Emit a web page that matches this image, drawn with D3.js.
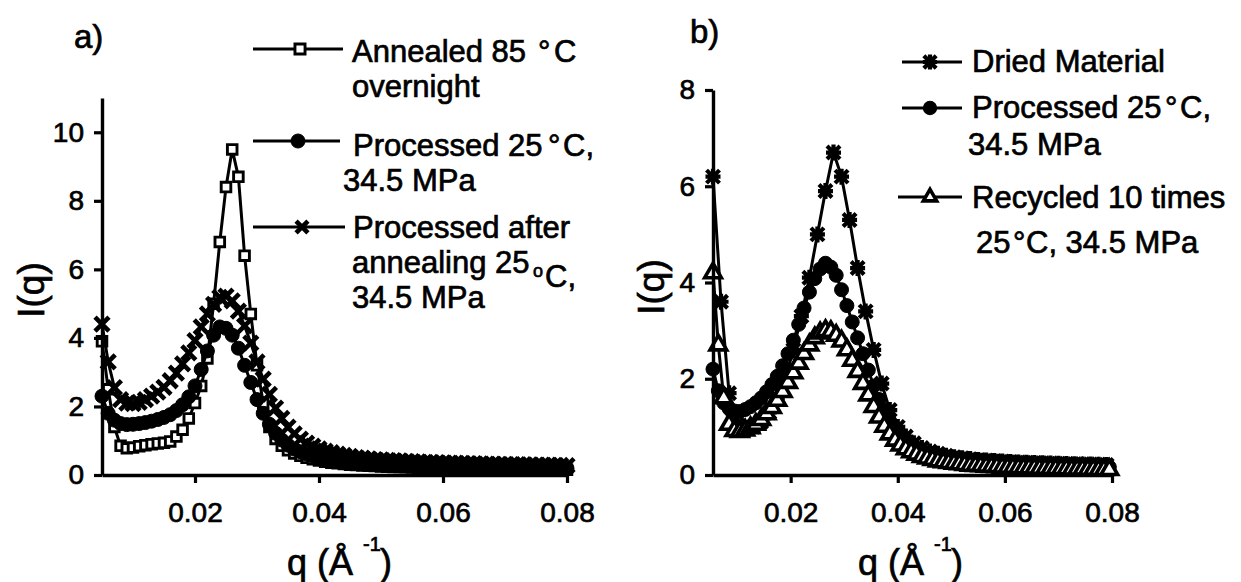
<!DOCTYPE html>
<html><head><meta charset="utf-8">
<script src="https://cdn.jsdelivr.net/npm/d3@7"></script>
<style>
html,body{margin:0;padding:0;background:#fff;}
svg text{font-family:"Liberation Sans",Arial,sans-serif;fill:#000;stroke:#000;stroke-width:0.7px;}
</style></head><body>
<svg id="chart" width="1241" height="582"></svg>
<script>
// ---------- DATA ----------
const qLeft = [
0.005,0.006,0.007,0.008,0.009,0.010,0.011,0.012,0.013,0.014,
0.015,0.016,0.017,0.018,0.019,0.020,0.021,0.022,0.023,0.024,
0.025,0.026,0.027,0.028,0.029,0.030,0.031,0.032,0.033,0.034,
0.035,0.036,0.037,0.038,0.039,0.040,0.041,0.042,0.043,0.044,
0.045,0.046,0.047,0.048,0.049,0.050,0.051,0.052,0.053,0.054,
0.055,0.056,0.057,0.058,0.059,0.060,0.061,0.062,0.063,0.064,
0.065,0.066,0.067,0.068,0.069,0.070,0.071,0.072,0.073,0.074,
0.075,0.076,0.077,0.078,0.079,0.080];
const annealed = [
3.9,2.5,1.4,0.85,0.78,0.8,0.84,0.87,0.9,0.92,
0.94,0.98,1.12,1.32,1.65,2.1,2.6,3.4,5.0,6.8,
8.4,9.5,8.7,6.4,4.7,3.2,2.1,1.4,1.05,0.85,
0.72,0.63,0.56,0.5,0.46,0.42,0.39,0.36,0.34,0.32,
0.3,0.29,0.28,0.27,0.26,0.25,0.24,0.235,0.23,0.225,
0.22,0.215,0.21,0.205,0.2,0.2,0.195,0.19,0.19,0.185,
0.18,0.18,0.175,0.175,0.17,0.17,0.165,0.165,0.16,0.16,
0.16,0.155,0.155,0.15,0.15,0.15];
const processedLeft = [
2.3,1.8,1.6,1.5,1.47,1.48,1.5,1.53,1.57,1.62,
1.68,1.76,1.88,2.05,2.28,2.6,3.08,3.62,4.08,4.32,
4.28,4.08,3.7,3.2,2.7,2.2,1.8,1.48,1.22,1.02,
0.87,0.76,0.68,0.61,0.56,0.51,0.47,0.44,0.42,0.4,
0.38,0.36,0.35,0.34,0.33,0.32,0.31,0.3,0.29,0.285,
0.28,0.275,0.27,0.265,0.26,0.255,0.25,0.245,0.24,0.235,
0.23,0.23,0.225,0.22,0.22,0.215,0.21,0.21,0.205,0.2,
0.2,0.2,0.195,0.195,0.19,0.19];
const afterAnnealing = [
4.4,3.3,2.55,2.2,2.1,2.08,2.12,2.2,2.3,2.42,
2.56,2.75,2.97,3.24,3.56,3.92,4.32,4.7,4.98,5.18,
5.22,5.08,4.78,4.35,3.85,3.3,2.8,2.35,1.95,1.65,
1.4,1.2,1.05,0.93,0.84,0.76,0.7,0.65,0.61,0.57,
0.54,0.51,0.49,0.47,0.45,0.44,0.43,0.42,0.41,0.4,
0.39,0.38,0.37,0.365,0.36,0.355,0.35,0.345,0.34,0.335,
0.33,0.325,0.32,0.315,0.31,0.31,0.305,0.3,0.3,0.295,
0.29,0.29,0.285,0.28,0.28,0.275];

const qDried = [
0.0055,0.0070,0.0085,0.0100,0.0115,0.0130,0.0145,0.0160,0.0175,0.0190,
0.0205,0.0220,0.0235,0.0250,0.0265,0.0280,0.0295,0.0310,0.0325,0.0340,
0.0355,0.0370,0.0385,0.0400,0.0415,0.0430,0.0445,0.0460,0.0475,0.0490,
0.0505,0.0520,0.0535,0.0550,0.0565,0.0580,0.0595,0.0610,0.0625,0.0640,
0.0655,0.0670,0.0685,0.0700,0.0715,0.0730,0.0745,0.0760,0.0775,0.0790];
const dried = [
6.2,3.6,1.7,1.05,0.95,1.0,1.1,1.3,1.6,2.0,
2.6,3.3,4.1,5.0,5.9,6.7,6.2,5.3,4.3,3.4,
2.6,1.9,1.35,1.0,0.8,0.66,0.56,0.49,0.44,0.4,
0.37,0.35,0.33,0.31,0.3,0.29,0.28,0.27,0.26,0.255,
0.25,0.245,0.24,0.235,0.23,0.225,0.22,0.22,0.215,0.21];

const qRightDense = [
0.0055,0.0065,0.0075,0.0085,0.0095,0.0105,0.0115,0.0125,0.0135,0.0145,
0.0155,0.0165,0.0175,0.0185,0.0195,0.0205,0.0215,0.0225,0.0235,0.0245,
0.0255,0.0265,0.0275,0.0285,0.0295,0.0305,0.0315,0.0325,0.0335,0.0345,
0.0355,0.0365,0.0375,0.0385,0.0395,0.0405,0.0415,0.0425,0.0435,0.0445,
0.0455,0.0465,0.0475,0.0485,0.0495,0.0505,0.0515,0.0525,0.0535,0.0545,
0.0555,0.0565,0.0575,0.0585,0.0595,0.0605,0.0615,0.0625,0.0635,0.0645,
0.0655,0.0665,0.0675,0.0685,0.0695,0.0705,0.0715,0.0725,0.0735,0.0745,
0.0755,0.0765,0.0775,0.0785,0.0795];
const processedRight = [
2.2,1.75,1.5,1.38,1.33,1.32,1.36,1.42,1.5,1.6,
1.73,1.88,2.05,2.27,2.52,2.8,3.13,3.47,3.8,4.08,
4.28,4.4,4.32,4.15,3.85,3.52,3.18,2.85,2.52,2.18,
1.85,1.57,1.34,1.12,0.95,0.82,0.7,0.62,0.55,0.5,
0.46,0.42,0.39,0.36,0.34,0.32,0.31,0.295,0.28,0.27,
0.26,0.25,0.245,0.24,0.23,0.225,0.22,0.21,0.207,0.204,
0.2,0.197,0.193,0.19,0.187,0.184,0.18,0.18,0.177,0.175,
0.172,0.17,0.17,0.167,0.165];
const recycled = [
4.2,2.7,1.6,1.05,0.92,0.9,0.93,0.98,1.05,1.15,
1.27,1.4,1.55,1.73,1.92,2.12,2.32,2.52,2.7,2.85,
2.95,3.0,2.98,2.9,2.78,2.6,2.38,2.15,1.9,1.66,
1.42,1.2,1.01,0.85,0.72,0.62,0.54,0.48,0.43,0.38,
0.35,0.32,0.29,0.27,0.255,0.24,0.23,0.215,0.2,0.195,
0.19,0.18,0.175,0.17,0.16,0.157,0.155,0.15,0.147,0.145,
0.14,0.137,0.134,0.13,0.13,0.128,0.125,0.122,0.12,0.12,
0.117,0.115,0.11,0.11,0.11];

const xTickValues = [0.02, 0.04, 0.06, 0.08];
const yTicksLeft = [0, 2, 4, 6, 8, 10];
const yTicksRight = [0, 2, 4, 6, 8];

// ---------- DRAWING ----------
const svg = d3.select("#chart");
const LFS = 31; // legend font size

const markerStyles = {
  square:   {d: "M-4.8,-4.8H4.8V4.8H-4.8Z", fill: "#fff", sw: 2.9},
  circle:   {d: d3.symbol(d3.symbolCircle, Math.PI * 49)(), fill: "#000", sw: 1},
  cross:    {d: "M-7,-7L7,7M7,-7L-7,7", fill: "none", sw: 4.6},
  asterisk: {d: "M-6.5,-6.5L6.5,6.5M6.5,-6.5L-6.5,6.5M0,-8L0,8M-7.5,0L7.5,0", fill: "none", sw: 4.2},
  triangle: {d: d3.symbol(d3.symbolTriangle, 120)(), fill: "#fff", sw: 3.6}
};

function drawPanel(cfg) {
  const x = d3.scaleLinear().domain(cfg.xDomain).range(cfg.xRange);
  const y = d3.scaleLinear().domain(cfg.yDomain).range(cfg.yRange);
  const g = svg.append("g");

  cfg.series.forEach(s => {
    const pts = s.q.map((q, i) => [q, s.values[i]]);
    g.append("path")
      .attr("d", d3.line().x(d => x(d[0])).y(d => y(d[1]))(pts))
      .attr("fill", "none").attr("stroke", "#000").attr("stroke-width", 3);
    const m = markerStyles[s.marker];
    g.append("g").selectAll("path").data(pts).enter().append("path")
      .attr("transform", d => `translate(${x(d[0])},${y(d[1])})`)
      .attr("d", m.d).attr("fill", m.fill)
      .attr("stroke", "#000").attr("stroke-width", m.sw);
  });

  const xa = g.append("g").attr("transform", `translate(0,${cfg.yRange[0]})`)
    .call(d3.axisBottom(x).tickValues(xTickValues).tickSize(8).tickSizeOuter(0)
      .tickPadding(19).tickFormat(d3.format(".2f")));
  const ya = g.append("g").attr("transform", `translate(${cfg.xRange[0]},0)`)
    .call(d3.axisLeft(y).tickValues(cfg.yTicks).tickSize(8).tickSizeOuter(0)
      .tickPadding(10).tickFormat(d3.format("d")));
  [xa, ya].forEach(a => {
    a.select(".domain").attr("stroke", "#000").attr("stroke-width", 3.4);
    a.selectAll(".tick line").attr("stroke", "#000").attr("stroke-width", 3.2);
    a.selectAll(".tick text").attr("font-size", 28).attr("fill", "#000")
      .attr("font-family", "'Liberation Sans', Arial, sans-serif");
  });

  // Y title
  svg.append("text")
    .attr("transform", `translate(${cfg.yTitlePos[0]},${cfg.yTitlePos[1]}) rotate(-90)`)
    .attr("text-anchor", "middle").attr("font-size", 37).text("I(q)");
  // X title
  const xt = svg.append("text").attr("font-size", 36);
  xt.append("tspan").attr("x", cfg.xTitleX).attr("y", 575).text("q (Å");
  xt.append("tspan").attr("x", cfg.xTitleX + 76).attr("y", 551).attr("font-size", 20).text("-1");
  xt.append("tspan").attr("x", cfg.xTitleX + 93).attr("y", 575).text(")");
  // panel label
  svg.append("text").attr("x", cfg.label[0]).attr("y", cfg.label[1])
    .attr("font-size", 33).text(cfg.label[2]);

  // legend
  cfg.legend.forEach(L => {
    svg.append("line").attr("x1", L.x1).attr("x2", L.x2).attr("y1", L.y).attr("y2", L.y)
      .attr("stroke", "#000").attr("stroke-width", 3);
    const m = markerStyles[L.marker];
    svg.append("path").attr("d", m.d)
      .attr("transform", `translate(${L.mx},${L.y}) scale(${L.ms})`)
      .attr("fill", m.fill).attr("stroke", "#000").attr("stroke-width", m.sw / L.ms);
    L.lines.forEach(line => {
      const t = svg.append("text").attr("font-size", LFS);
      line.forEach(seg => {
        t.append("tspan").attr("x", seg.x).attr("y", seg.y)
          .attr("font-size", seg.fs || LFS).text(seg.t);
      });
    });
  });
}

drawPanel({
  xDomain: [0.005, 0.08], xRange: [102, 567],
  yDomain: [0, 11], yRange: [475, 98],
  yTicks: yTicksLeft,
  series: [
    {q: qLeft, values: annealed, marker: "square"},
    {q: qLeft, values: processedLeft, marker: "circle"},
    {q: qLeft, values: afterAnnealing, marker: "cross"}
  ],
  yTitlePos: [44, 290],
  xTitleX: 287,
  label: [74, 48, "a)"],
  legend: [
    {x1: 253, x2: 343, y: 49, mx: 300, ms: 1.05, marker: "square",
     lines: [[{x: 352, y: 62, t: "Annealed 85"}, {x: 538, y: 62, t: "°"}, {x: 554, y: 62, t: "C"}],
             [{x: 352, y: 97, t: "overnight"}]]},
    {x1: 253, x2: 340, y: 141, mx: 298, ms: 1.0, marker: "circle",
     lines: [[{x: 353, y: 156, t: "Processed 25"}, {x: 548, y: 156, t: "°"}, {x: 563, y: 156, t: "C,"}],
             [{x: 343, y: 191, t: "34.5 MPa"}]]},
    {x1: 253, x2: 345, y: 227, mx: 302, ms: 0.85, marker: "cross",
     lines: [[{x: 353, y: 238, t: "Processed after"}],
             [{x: 352, y: 273, t: "annealing 25"}, {x: 533, y: 277, t: "o", fs: 18}, {x: 545, y: 287, t: "C,"}],
             [{x: 352, y: 308, t: "34.5 MPa"}]]}
  ]
});

drawPanel({
  xDomain: [0.0055, 0.08], xRange: [713, 1112],
  yDomain: [0, 8], yRange: [475, 90],
  yTicks: yTicksRight,
  series: [
    {q: qDried, values: dried, marker: "asterisk"},
    {q: qRightDense, values: processedRight, marker: "circle"},
    {q: qRightDense, values: recycled, marker: "triangle"}
  ],
  yTitlePos: [664, 287],
  xTitleX: 858,
  label: [690, 43, "b)"],
  legend: [
    {x1: 902, x2: 962, y: 62, mx: 930, ms: 0.95, marker: "asterisk",
     lines: [[{x: 972, y: 72, t: "Dried Material"}]]},
    {x1: 902, x2: 962, y: 108, mx: 930, ms: 0.95, marker: "circle",
     lines: [[{x: 972, y: 118, t: "Processed 25"}, {x: 1165, y: 118, t: "°"}, {x: 1180, y: 118, t: "C,"}],
             [{x: 968, y: 155, t: "34.5 MPa"}]]},
    {x1: 898, x2: 962, y: 197, mx: 930, ms: 0.8, marker: "triangle",
     lines: [[{x: 972, y: 208, t: "Recycled 10 times"}],
             [{x: 976, y: 253, t: "25"}, {x: 1013, y: 253, t: "°"}, {x: 1026, y: 253, t: "C, 34.5 MPa"}]]}
  ]
});
</script>
</body></html>
